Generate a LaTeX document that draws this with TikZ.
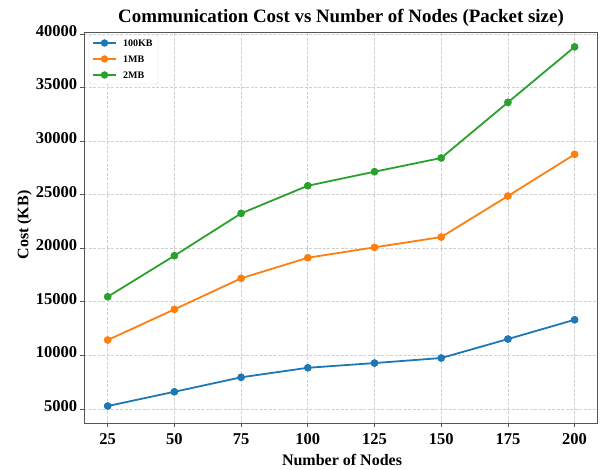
\documentclass[tikz,border=0pt]{standalone}
\usepackage{fontspec}
\setmainfont{Liberation Serif}
\definecolor{tabblue}{HTML}{1F77B4}
\definecolor{taborange}{HTML}{FF7F0E}
\definecolor{tabgreen}{HTML}{2CA02C}
\definecolor{gridgray}{HTML}{D0D0D0}
\definecolor{spinegray}{HTML}{555555}
\begin{document}
\begin{tikzpicture}[x=1pt,y=1pt,
  gridline/.style={draw=gridgray,line width=0.8pt,dash pattern=on 3pt off 1.5pt},
  spine/.style={draw=spinegray,line width=1pt},
  tickmark/.style={draw=spinegray,line width=0.8pt},
  ticklabel/.style={font=\fontsize{16.5}{18}\selectfont\bfseries,inner sep=0pt},
  axlabel/.style={font=\fontsize{16}{18}\selectfont\bfseries,inner sep=0pt},
  serie/.style={line width=1.8pt,line join=round,line cap=round},
  mk/.style={circle,fill=#1,inner sep=0pt,minimum size=7.5pt},
  legtext/.style={font=\fontsize{10}{12}\selectfont\bfseries,anchor=west,inner sep=0pt}]
\useasboundingbox (0,0) rectangle (600,469);
% title
\node[font=\fontsize{18.9}{21}\selectfont\bfseries,anchor=base,inner sep=0pt] (title) at (341,446) {Communication Cost vs Number of Nodes (Packet size)};
\begin{scope}[shift={(41pt,6.4pt)},x=2.668pt,y=10.714pt]
  % grid
  \foreach \n in {25,50,...,200} \draw[gridline] (\n,3.65) -- (\n,40.19);
  \foreach \v in {5,10,...,40} \draw[gridline] (16.27,\v) -- (208.7,\v);
  % spines
  \draw[spine] (16.27,3.65) rectangle (208.7,40.19);
  % ticks
  \foreach \n in {25,50,...,200} {
    \draw[tickmark] (\n,3.65) -- ++(0,-4pt);
    \node[ticklabel,anchor=base] (xt\n) at ([yshift=-21.5pt]\n,3.65) {\n};
  }
  \foreach \v in {5,10,...,40} {
    \draw[tickmark] (16.27,\v) -- ++(-4pt,0);
    \node[ticklabel,anchor=mid east] (yt\v) at ([xshift=-7pt]16.27,\v) {\v000};
  }
  % data
  \node[mk=tabblue] (b1) at (25,5.28) {};
  \node[mk=tabblue] (b2) at (50,6.61) {};
  \node[mk=tabblue] (b3) at (75,7.96) {};
  \node[mk=tabblue] (b4) at (100,8.85) {};
  \node[mk=tabblue] (b5) at (125,9.29) {};
  \node[mk=tabblue] (b6) at (150,9.76) {};
  \node[mk=tabblue] (b7) at (175,11.53) {};
  \node[mk=tabblue] (b8) at (200,13.33) {};
  \node[mk=taborange] (o1) at (25,11.44) {};
  \node[mk=taborange] (o2) at (50,14.30) {};
  \node[mk=taborange] (o3) at (75,17.20) {};
  \node[mk=taborange] (o4) at (100,19.12) {};
  \node[mk=taborange] (o5) at (125,20.09) {};
  \node[mk=taborange] (o6) at (150,21.05) {};
  \node[mk=taborange] (o7) at (175,24.88) {};
  \node[mk=taborange] (o8) at (200,28.77) {};
  \node[mk=tabgreen] (g1) at (25,15.48) {};
  \node[mk=tabgreen] (g2) at (50,19.31) {};
  \node[mk=tabgreen] (g3) at (75,23.26) {};
  \node[mk=tabgreen] (g4) at (100,25.84) {};
  \node[mk=tabgreen] (g5) at (125,27.15) {};
  \node[mk=tabgreen] (g6) at (150,28.43) {};
  \node[mk=tabgreen] (g7) at (175,33.62) {};
  \node[mk=tabgreen] (g8) at (200,38.80) {};
  \draw[serie,tabblue] (b1.center)--(b2.center)--(b3.center)--(b4.center)--(b5.center)--(b6.center)--(b7.center)--(b8.center);
  \draw[serie,taborange] (o1.center)--(o2.center)--(o3.center)--(o4.center)--(o5.center)--(o6.center)--(o7.center)--(o8.center);
  \draw[serie,tabgreen] (g1.center)--(g2.center)--(g3.center)--(g4.center)--(g5.center)--(g6.center)--(g7.center)--(g8.center);
  \foreach \s/\c in {b/tabblue,o/taborange,g/tabgreen}
    \foreach \i in {1,...,8} \fill[\c] (\s\i) circle (3.75pt);
\end{scope}
% axis labels
\node[axlabel,anchor=base] (xlab) at (342,4) {Number of Nodes};
\node[axlabel,rotate=90] (ylab) at (24.5,244) {Cost (KB)};
% legend
\node[draw=gridgray,fill=white,rounded corners=2pt,minimum width=69pt,minimum height=49pt,inner sep=0pt] (legend) at (123.5,409.5) {};
\foreach \c/\t/\y in {tabblue/100KB/426,taborange/1MB/410,tabgreen/2MB/394} {
  \coordinate (l\t a) at (93,\y);
  \coordinate (l\t b) at (116,\y);
  \draw[serie,\c,line cap=butt] (l\t a) -- (l\t b);
  \node[mk=\c] (l\t m) at (104.5,\y) {};
  \node[legtext] (l\t t) at (123,\y) {\t};
}
\end{tikzpicture}
\end{document}
